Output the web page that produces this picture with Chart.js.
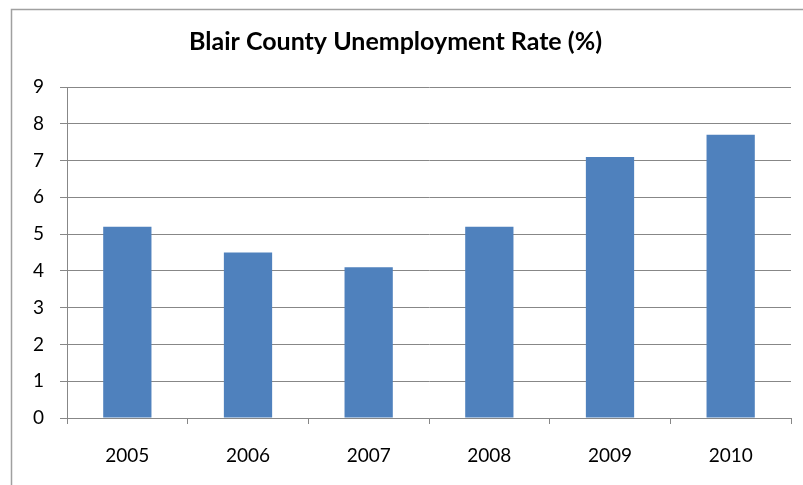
<!DOCTYPE html>
<html lang="en">
<head>
    <meta charset="UTF-8">
    <title>Blair County Unemployment Rate</title>
    <script src="https://cdn.jsdelivr.net/npm/chart.js"></script>
    <style>
        body {
            margin: 0;
            background: #fff;
        }
        canvas {
            display: block;
        }
    </style>
</head>
<body>
    <canvas id="rateChart" width="803" height="485"></canvas>
    <script>
    const years = ['2005', '2006', '2007', '2008', '2009', '2010'];
    const rates = [5.2, 4.5, 4.1, 5.2, 7.1, 7.7];
    const yTicks = [0, 1, 2, 3, 4, 5, 6, 7, 8, 9];

    const gridGrey = '#878787';
    const fontFamily = 'Lato, "Open Sans", sans-serif';

    // thin frame around the whole chart, like a spreadsheet chart object
    const chartFrame = {
        id: 'chartFrame',
        beforeDraw(chart) {
            const ctx = chart.ctx;
            ctx.save();
            ctx.strokeStyle = '#a0a0a0';
            ctx.lineWidth = 1.5;
            ctx.strokeRect(11.5, 9.5, 1000, 1000);
            ctx.restore();
        }
    };

    const ctx = document.getElementById('rateChart').getContext('2d');
    new Chart(ctx, {
        type: 'bar',
        data: {
            labels: years,
            datasets: [{
                label: 'Unemployment Rate (%)',
                data: rates,
                backgroundColor: '#4f81bd',
                barPercentage: 0.4,
                categoryPercentage: 1.0
            }]
        },
        options: {
            responsive: false,
            animation: false,
            layout: {
                padding: { left: 0, right: 12, top: 0, bottom: 0 }
            },
            plugins: {
                legend: { display: false },
                tooltip: { enabled: false },
                title: {
                    display: true,
                    text: 'Blair County Unemployment Rate (%)',
                    color: '#000',
                    font: { family: fontFamily, size: 25, weight: 'bold' },
                    padding: { top: 27, bottom: 30 }
                }
            },
            scales: {
                x: {
                    afterFit: s => { s.height = 67; },
                    grid: {
                        drawOnChartArea: false,
                        drawTicks: true,
                        tickLength: 6,
                        color: gridGrey
                    },
                    border: { color: gridGrey, width: 1 },
                    ticks: {
                        color: '#000',
                        padding: 20,
                        font: { family: fontFamily, size: 19 }
                    }
                },
                y: {
                    min: 0,
                    max: 9,
                    afterFit: s => { s.width = 67; },
                    afterBuildTicks: s => { s.ticks = yTicks.map(v => ({ value: v })); },
                    grid: {
                        color: gridGrey,
                        tickLength: 7
                    },
                    border: { color: gridGrey, width: 1 },
                    ticks: {
                        color: '#000',
                        padding: 16,
                        font: { family: fontFamily, size: 19 }
                    }
                }
            }
        },
        plugins: [chartFrame]
    });
    </script>
</body>
</html>
